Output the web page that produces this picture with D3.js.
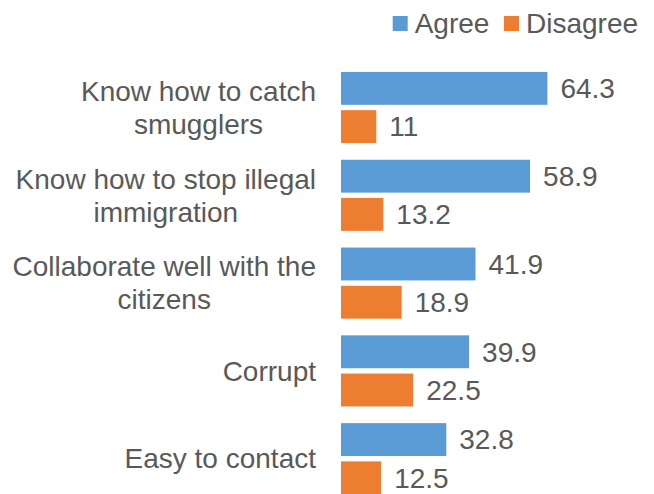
<!DOCTYPE html>
<html>
<head>
<meta charset="utf-8">
<script src="https://cdn.jsdelivr.net/npm/d3@7"></script>
<style>
  html, body { margin: 0; padding: 0; background: #fff; }
  svg { display: block; font-family: "Liberation Sans", Arial, sans-serif; }
</style>
</head>
<body>
<svg id="chart" width="654" height="494"></svg>
<script>
const categories = [
  ["Know how to catch", "smugglers"],
  ["Know how to stop illegal", "immigration"],
  ["Collaborate well with the", "citizens"],
  ["Corrupt"],
  ["Easy to contact"]
];
const seriesNames = ["Agree", "Disagree"];
const agree = [64.3, 58.9, 41.9, 39.9, 32.8];
const disagree = [11, 13.2, 18.9, 22.5, 12.5];
const colors = ["#5B9BD5", "#ED7D31"];

const svg = d3.select("#chart");
const textColor = "#595959";
const fs = 28;

const catKeys = categories.map((c, i) => i);
const y = d3.scaleBand().domain(catKeys).range([63.6, 502.6]).paddingInner(0.19).paddingOuter(0.095);
const ySub = d3.scaleBand().domain(seriesNames).range([0, y.bandwidth()]).paddingInner(0.14).paddingOuter(0);
const x = d3.scaleLinear().domain([0, 70]).range([0, 224.7]);
const x0 = 341;

const data = catKeys.map(i => ({ i, values: [agree[i], disagree[i]] }));

const g = svg.append("g");
const groups = g.selectAll("g.cat").data(data).join("g")
  .attr("class", "cat")
  .attr("transform", d => `translate(0,${y(d.i)})`);

groups.selectAll("rect").data(d => d.values.map((v, k) => ({ v, k }))).join("rect")
  .attr("x", x0)
  .attr("y", d => ySub(seriesNames[d.k]))
  .attr("width", d => x(d.v))
  .attr("height", ySub.bandwidth())
  .attr("fill", d => colors[d.k]);

groups.selectAll("text.val").data(d => d.values.map((v, k) => ({ v, k }))).join("text")
  .attr("class", "val")
  .attr("x", d => x0 + x(d.v) + 13)
  .attr("y", d => ySub(seriesNames[d.k]) + ySub.bandwidth() / 2)
  .attr("dy", "0.35em")
  .attr("font-size", fs)
  .attr("fill", textColor)
  .text(d => d.v);

// category labels: lines centered within block, block right-aligned at 316
const labelRight = 316;
const lineH = 33;
groups.each(function(d) {
  const lines = categories[d.i];
  const cg = d3.select(this).append("g");
  const texts = lines.map((ln, j) => cg.append("text")
    .attr("font-size", fs)
    .attr("fill", textColor)
    .attr("text-anchor", "middle")
    .attr("y", y.bandwidth() / 2 + (j - (lines.length - 1) / 2) * lineH)
    .attr("dy", "0.35em")
    .text(ln));
  const maxW = d3.max(texts, t => t.node().getComputedTextLength());
  texts.forEach(t => t.attr("x", labelRight - maxW / 2));
});

// legend
const legend = svg.append("g");
const legendItems = [
  { name: seriesNames[0], color: colors[0], x: 392.7 },
  { name: seriesNames[1], color: colors[1], x: 504 }
];
legendItems.forEach(it => {
  legend.append("rect").attr("x", it.x).attr("y", 16).attr("width", 15).attr("height", 15).attr("fill", it.color);
  legend.append("text").attr("x", it.x + 22).attr("y", 23.5).attr("dy", "0.35em")
    .attr("font-size", fs).attr("fill", textColor).text(it.name);
});
</script>
</body>
</html>
